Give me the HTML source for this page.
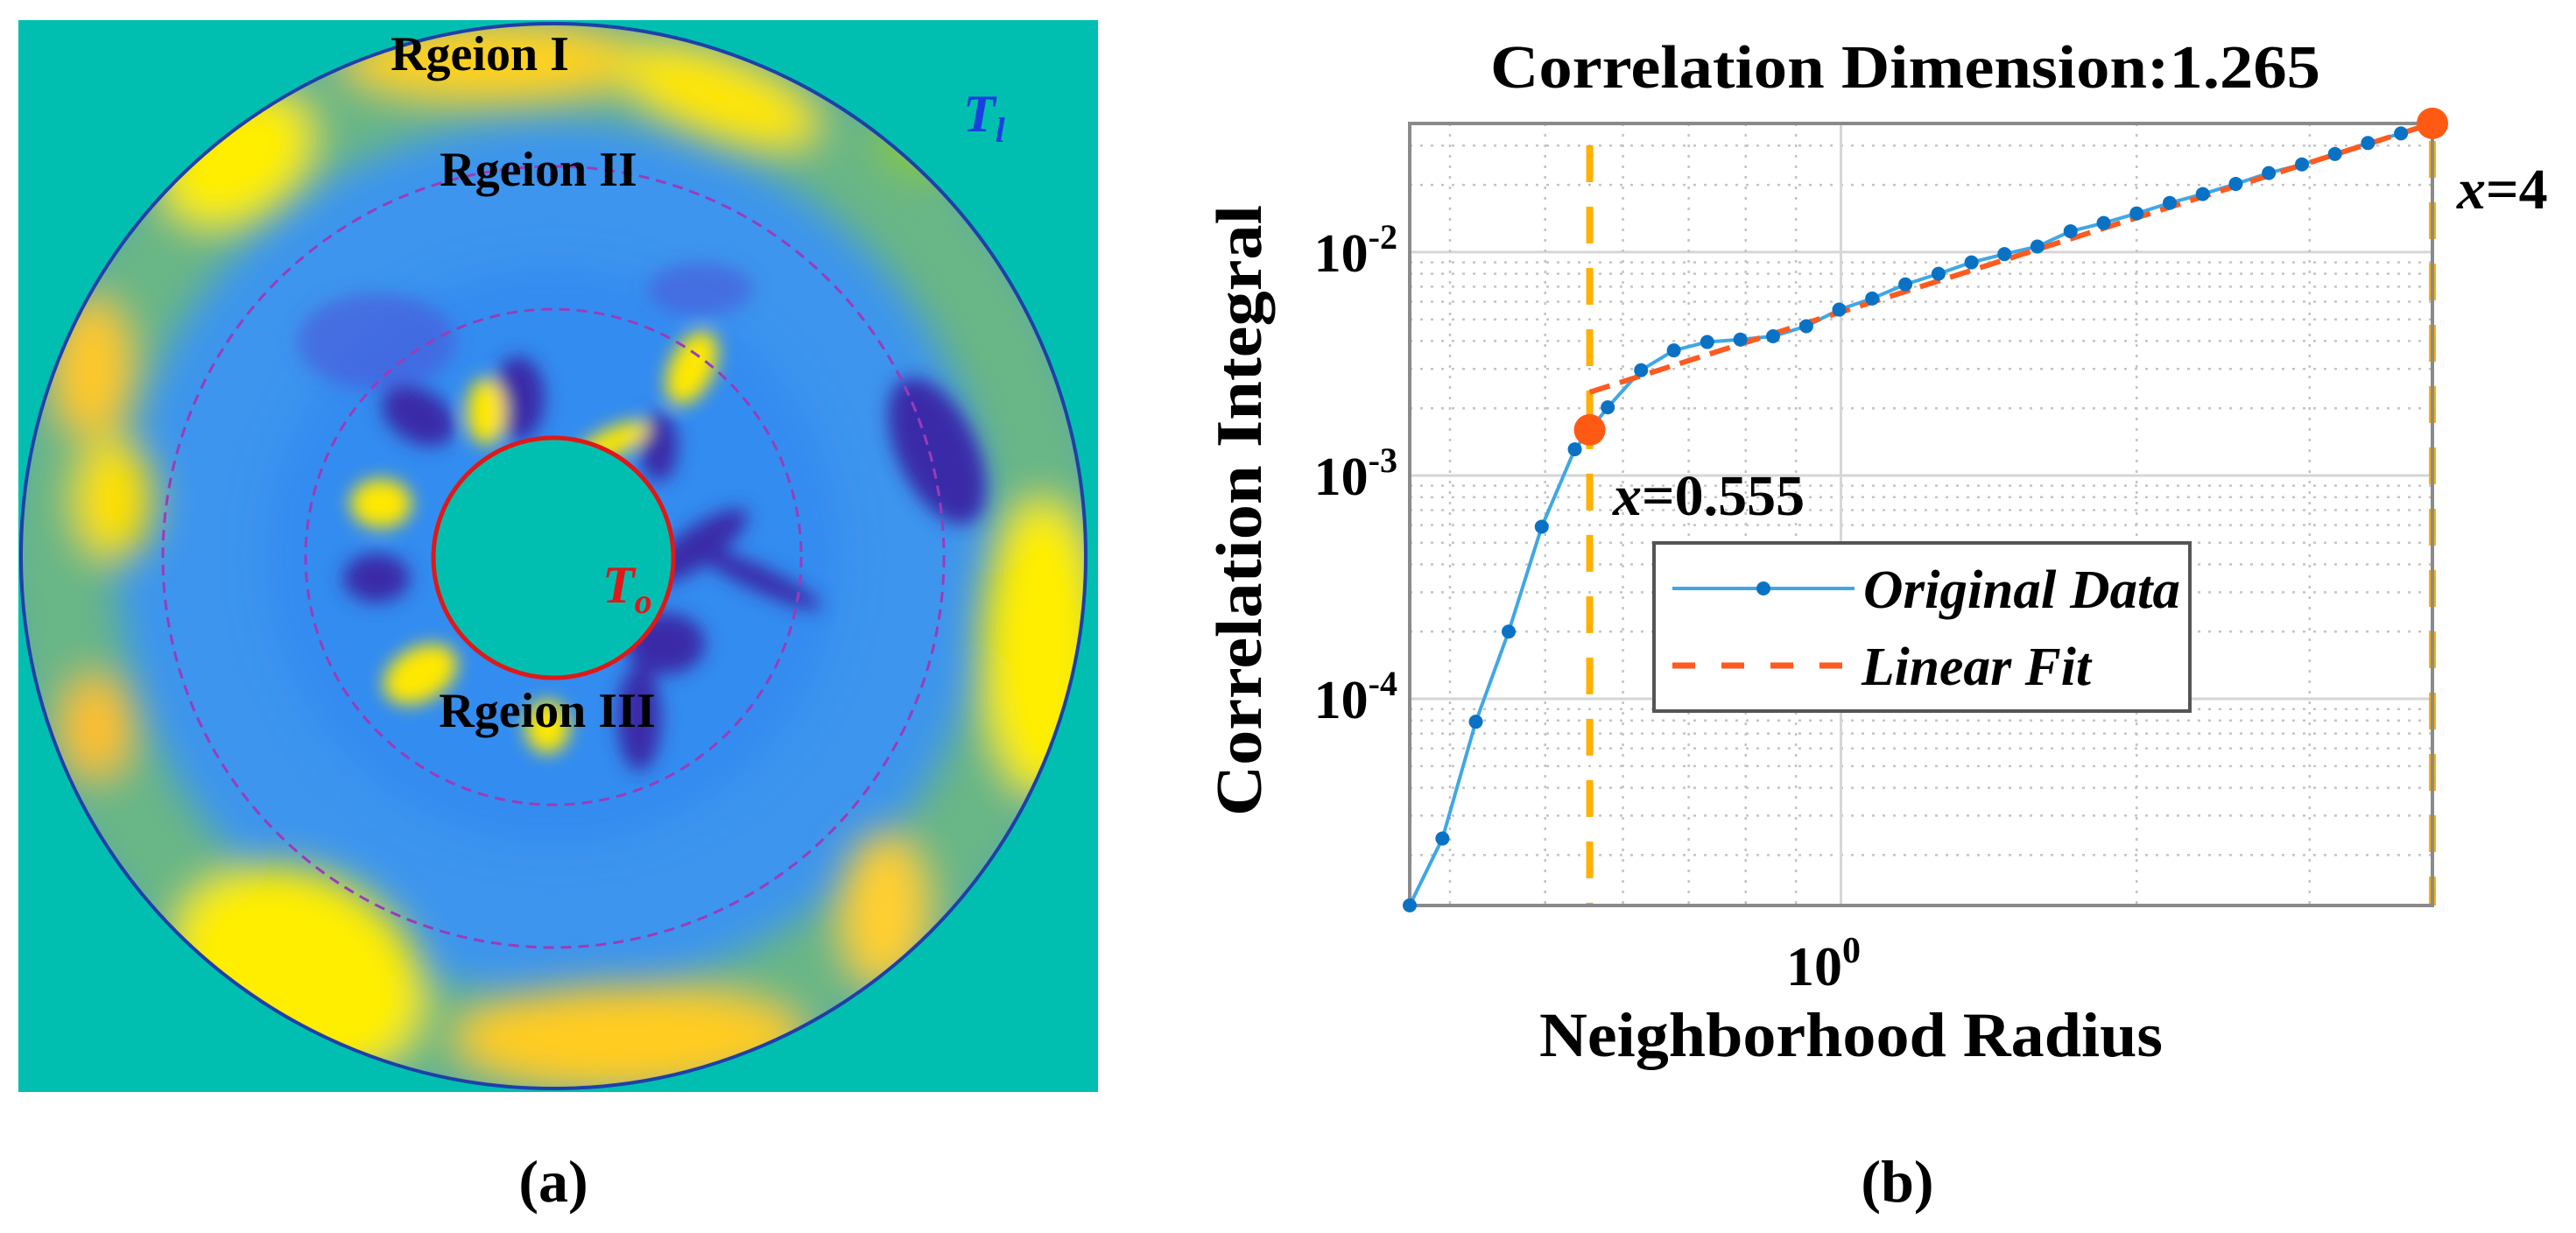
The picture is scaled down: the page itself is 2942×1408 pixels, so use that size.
<!DOCTYPE html>
<html><head><meta charset="utf-8"><style>
html,body{margin:0;padding:0;background:#fff;width:2942px;height:1408px;overflow:hidden}
svg{display:block}
text{font-family:"Liberation Serif","DejaVu Serif",serif;font-weight:bold}
</style></head><body>
<svg id="fig" width="2942" height="1408" viewBox="0 0 2942 1408" xmlns="http://www.w3.org/2000/svg">
<defs>
 <filter id="blur" x="-50%" y="-50%" width="200%" height="200%"><feGaussianBlur stdDeviation="22"/></filter>
 <filter id="blur2" x="-50%" y="-50%" width="200%" height="200%"><feGaussianBlur stdDeviation="10"/></filter>
 <clipPath id="discClip"><circle cx="632" cy="635" r="608"/></clipPath>
</defs>
<g>
 <rect x="21" y="23" width="1233" height="1224" fill="#00bfb0"/>
 <g clip-path="url(#discClip)">
  <circle cx="632" cy="635" r="608" fill="#3d95ee"/>
  <g filter="url(#blur)">
   <circle cx="632" cy="635" r="565" fill="none" stroke="#7cc45a" stroke-width="130" opacity="0.7"/>
   <ellipse cx="270" cy="180" rx="95" ry="70" fill="#ffee00" transform="rotate(-35 270 180)"/>
   <ellipse cx="560" cy="70" rx="170" ry="45" fill="#ffd21a"/>
   <ellipse cx="820" cy="110" rx="120" ry="45" fill="#ffe600" transform="rotate(20 820 110)"/>
   <ellipse cx="105" cy="420" rx="45" ry="80" fill="#ffc82a"/>
   <ellipse cx="130" cy="570" rx="45" ry="70" fill="#ffe000"/>
   <ellipse cx="110" cy="830" rx="40" ry="60" fill="#ffbf2e"/>
   <ellipse cx="340" cy="1110" rx="150" ry="115" fill="#ffee00" transform="rotate(25 340 1110)"/>
   <ellipse cx="720" cy="1185" rx="200" ry="60" fill="#ffcc22"/>
   <ellipse cx="1190" cy="740" rx="70" ry="170" fill="#ffee00"/>
   <ellipse cx="1010" cy="1040" rx="50" ry="90" fill="#ffcf30"/>
   <ellipse cx="1060" cy="160" rx="60" ry="45" fill="#84c64a"/>
   <circle cx="632" cy="635" r="330" fill="#2f86f2" opacity="0.6"/>
  </g>
  <g filter="url(#blur2)">
   <ellipse cx="592" cy="455" rx="30" ry="48" fill="#3a2aa8"/>
   <ellipse cx="478" cy="475" rx="45" ry="30" fill="#3a2aa8" transform="rotate(30 478 475)"/>
   <ellipse cx="752" cy="510" rx="22" ry="40" fill="#3a2aa8"/>
   <ellipse cx="795" cy="625" rx="70" ry="22" fill="#3a2aa8" transform="rotate(-35 795 625)"/>
   <ellipse cx="430" cy="660" rx="38" ry="28" fill="#3a2aa8"/>
   <ellipse cx="760" cy="735" rx="45" ry="35" fill="#3a2aa8"/>
   <ellipse cx="730" cy="820" rx="25" ry="60" fill="#3a2aa8"/>
   <ellipse cx="1070" cy="515" rx="45" ry="90" fill="#3a2aa8" transform="rotate(-25 1070 515)"/>
   <ellipse cx="865" cy="660" rx="80" ry="14" fill="#3a2aa8" transform="rotate(25 865 660)"/>
   <ellipse cx="430" cy="390" rx="90" ry="55" fill="#4b55d8" opacity="0.6"/>
   <ellipse cx="800" cy="330" rx="60" ry="30" fill="#4b55d8" opacity="0.6"/>
   <ellipse cx="435" cy="575" rx="35" ry="28" fill="#ffe800"/>
   <ellipse cx="555" cy="470" rx="22" ry="38" fill="#ffe800"/>
   <ellipse cx="700" cy="505" rx="45" ry="16" fill="#ffe800" transform="rotate(-25 700 505)"/>
   <ellipse cx="790" cy="420" rx="25" ry="45" fill="#ffe800" transform="rotate(25 790 420)"/>
   <ellipse cx="480" cy="770" rx="45" ry="30" fill="#ffe800" transform="rotate(-30 480 770)"/>
   <ellipse cx="625" cy="830" rx="25" ry="30" fill="#ffe800"/>
   <ellipse cx="735" cy="600" rx="10" ry="20" fill="#ffe800"/>
  </g>
  <circle cx="632" cy="635" r="137" fill="#00bfb0"/>
 </g>
 <circle cx="632" cy="635" r="608" fill="none" stroke="#1f3fa8" stroke-width="4"/>
 <circle cx="632" cy="636" r="446" fill="none" stroke="#9a3cb8" stroke-width="3" stroke-dasharray="12 8"/>
 <circle cx="632" cy="636" r="283" fill="none" stroke="#9a3cb8" stroke-width="3" stroke-dasharray="12 8"/>
 <circle cx="632" cy="637" r="137" fill="none" stroke="#e01818" stroke-width="5"/>
 <text x="548" y="80" font-size="56" text-anchor="middle">Rgeion  I</text>
 <text x="615" y="212" font-size="56" text-anchor="middle">Rgeion  II</text>
 <text x="625" y="830" font-size="56" text-anchor="middle">Rgeion  III</text>
 <text x="1100" y="150" font-size="60" font-style="italic" fill="#1a3fe0">T<tspan font-size="40" dy="12">l</tspan></text>
 <text x="688" y="688" font-size="60" font-style="italic" fill="#e01818">T<tspan font-size="40" dy="12">o</tspan></text>
 <text x="632" y="1372" font-size="68" text-anchor="middle" font-weight="normal">(<tspan font-weight="bold">a</tspan>)</text>
</g>
<g id="chart"></g>
</svg>
<script>
const xVals = [0.364,0.393,0.425,0.459,0.496,0.536,0.579,0.626,0.676,0.731,0.790,0.853,0.922,0.996,1.076,1.163,1.257,1.358,1.467,1.585,1.713,1.851,2.000,2.161,2.335,2.523,2.726,2.946,3.183,3.439,3.716,4.0];
const yVals = [1.19e-5,2.37e-5,7.9e-5,2.0e-4,5.9e-4,1.31e-3,2.02e-3,2.96e-3,3.63e-3,3.96e-3,4.06e-3,4.2e-3,4.66e-3,5.53e-3,6.2e-3,7.17e-3,8.0e-3,9.0e-3,9.8e-3,1.06e-2,1.24e-2,1.35e-2,1.49e-2,1.66e-2,1.82e-2,2.02e-2,2.26e-2,2.47e-2,2.75e-2,3.08e-2,3.40e-2,3.77e-2];
const fitX = [0.555,4.0];
const fitY = [2.36e-3,3.77e-2];
const markX = [0.555,4.0];
const markY = [1.6e-3,3.77e-2];
const yTickExp = [-4,-3,-2];
const xTickExp = [0];
const xDomain = [0.364,4.0];
const yDomain = [-4.925,-1.424];

const NS='http://www.w3.org/2000/svg';
const g=document.getElementById('chart');
const L=1610,R=2778,T=141,B=1034;
function sx(v){return L+(Math.log10(v)-Math.log10(xDomain[0]))/(Math.log10(xDomain[1])-Math.log10(xDomain[0]))*(R-L);}
function sy(v){return B-(Math.log10(v)-yDomain[0])/(yDomain[1]-yDomain[0])*(B-T);}
function el(tag,attrs,parent){const e=document.createElementNS(NS,tag);for(const k in attrs)e.setAttribute(k,attrs[k]);(parent||g).appendChild(e);return e;}

let bg=el('rect',{x:L,y:T,width:R-L,height:B-T,fill:'#fff'});


const grid=el('g',{});


for(let e=-5;e<=-1;e++){for(let m=1;m<10;m++){const v=m*Math.pow(10,e);const y=sy(v);if(y<T||y>B)continue;
 el('line',{x1:L,x2:R,y1:y,y2:y,stroke:m===1?'#d6d6d6':'#c4c4c4','stroke-width':m===1?3:2.5,'stroke-dasharray':m===1?'none':'3 9'},grid);}}
for(let e=-1;e<=0;e++){for(let m=1;m<10;m++){const v=m*Math.pow(10,e);const x=sx(v);if(x<L||x>R)continue;
 el('line',{x1:x,x2:x,y1:T,y2:B,stroke:m===1?'#d6d6d6':'#c4c4c4','stroke-width':m===1?3:2.5,'stroke-dasharray':m===1?'none':'3 9'},grid);}}
markX.forEach((v,i)=>{const ln=el('line',{x1:sx(v),x2:sx(v),y1:i===0?sy(markY[i])-20:T+20,y2:B,stroke:'#ffb000','stroke-width':8,'stroke-dasharray':'42 28'});
 
 });
const ln0=el('line',{x1:sx(markX[0]),x2:sx(markX[0]),y1:T+25,y2:sy(markY[0])-20,stroke:'#ffb000','stroke-width':8,'stroke-dasharray':'42 28'});


const box=el('rect',{x:L,y:T,width:R-L,height:B-T,fill:'none',stroke:'#8a8a8a','stroke-width':4});


const pts=xVals.map((v,i)=>sx(v)+','+sy(yVals[i])).join(' ');
const pl=el('polyline',{points:pts,fill:'none',stroke:'#3fa7e6','stroke-width':4});


const fl=el('line',{x1:sx(fitX[0]),y1:sy(fitY[0]),x2:sx(fitX[1]),y2:sy(fitY[1]),stroke:'#ff5a1f','stroke-width':6,'stroke-dasharray':'24 12'});


xVals.forEach((v,i)=>{const c=el('circle',{cx:sx(v),cy:sy(yVals[i]),r:8,fill:'#0a72c4'});
 
 });
markX.forEach((v,i)=>{const c=el('circle',{cx:sx(v),cy:sy(markY[i]),r:18,fill:'#ff5a14'});
 
 });
yTickExp.forEach(e=>{const t=el('text',{x:L-14,y:sy(Math.pow(10,e))+22,'font-size':62,'text-anchor':'end'});
 
 
 t.innerHTML='10<tspan font-size="40" dy="-26">'+e+'</tspan>';});
xTickExp.forEach(e=>{const t=el('text',{x:sx(Math.pow(10,e))-20,y:1125,'font-size':64,'text-anchor':'middle'});
 
 
 t.innerHTML='10<tspan font-size="42" dy="-26">'+e+'</tspan>';});
let t=el('text',{x:2176,y:100,'font-size':70,'text-anchor':'middle',textLength:948,lengthAdjust:'spacingAndGlyphs'});


t.textContent='Correlation Dimension:1.265';
t=el('text',{x:2114,y:1206,'font-size':72,'text-anchor':'middle',textLength:712,lengthAdjust:'spacingAndGlyphs'});


t.textContent='Neighborhood Radius';
t=el('text',{x:0,y:0,'font-size':74,'text-anchor':'middle',textLength:698,lengthAdjust:'spacingAndGlyphs',transform:'translate(1440,583) rotate(-90)'});


t.textContent='Correlation Integral';
t=el('text',{x:1842,y:588,'font-size':66});


t.innerHTML='<tspan font-style="italic">x</tspan>=0.555';
t=el('text',{x:2806,y:238,'font-size':66});


t.innerHTML='<tspan font-style="italic">x</tspan>=4';
const lg=el('g',{});


el('rect',{x:1889,y:620,width:612,height:192,fill:'#fff',stroke:'#555','stroke-width':4},lg);
el('line',{x1:1910,x2:2118,y1:672,y2:672,stroke:'#3fa7e6','stroke-width':4},lg);
el('circle',{cx:2014,cy:672,r:8,fill:'#0a72c4'},lg);
el('line',{x1:1910,x2:2110,y1:760,y2:760,stroke:'#ff5a1f','stroke-width':7,'stroke-dasharray':'26 30'},lg);
let lt=el('text',{x:2128,y:694,'font-size':62,'font-style':'italic',textLength:362,lengthAdjust:'spacingAndGlyphs'},lg);


lt.textContent='Original Data';
lt=el('text',{x:2126,y:782,'font-size':62,'font-style':'italic',textLength:262,lengthAdjust:'spacingAndGlyphs'},lg);


lt.textContent='Linear Fit';
t=el('text',{x:2167,y:1372,'font-size':68,'text-anchor':'middle','font-weight':'normal'});


t.innerHTML='(<tspan font-weight="bold">b</tspan>)';
</script>
</body></html>
